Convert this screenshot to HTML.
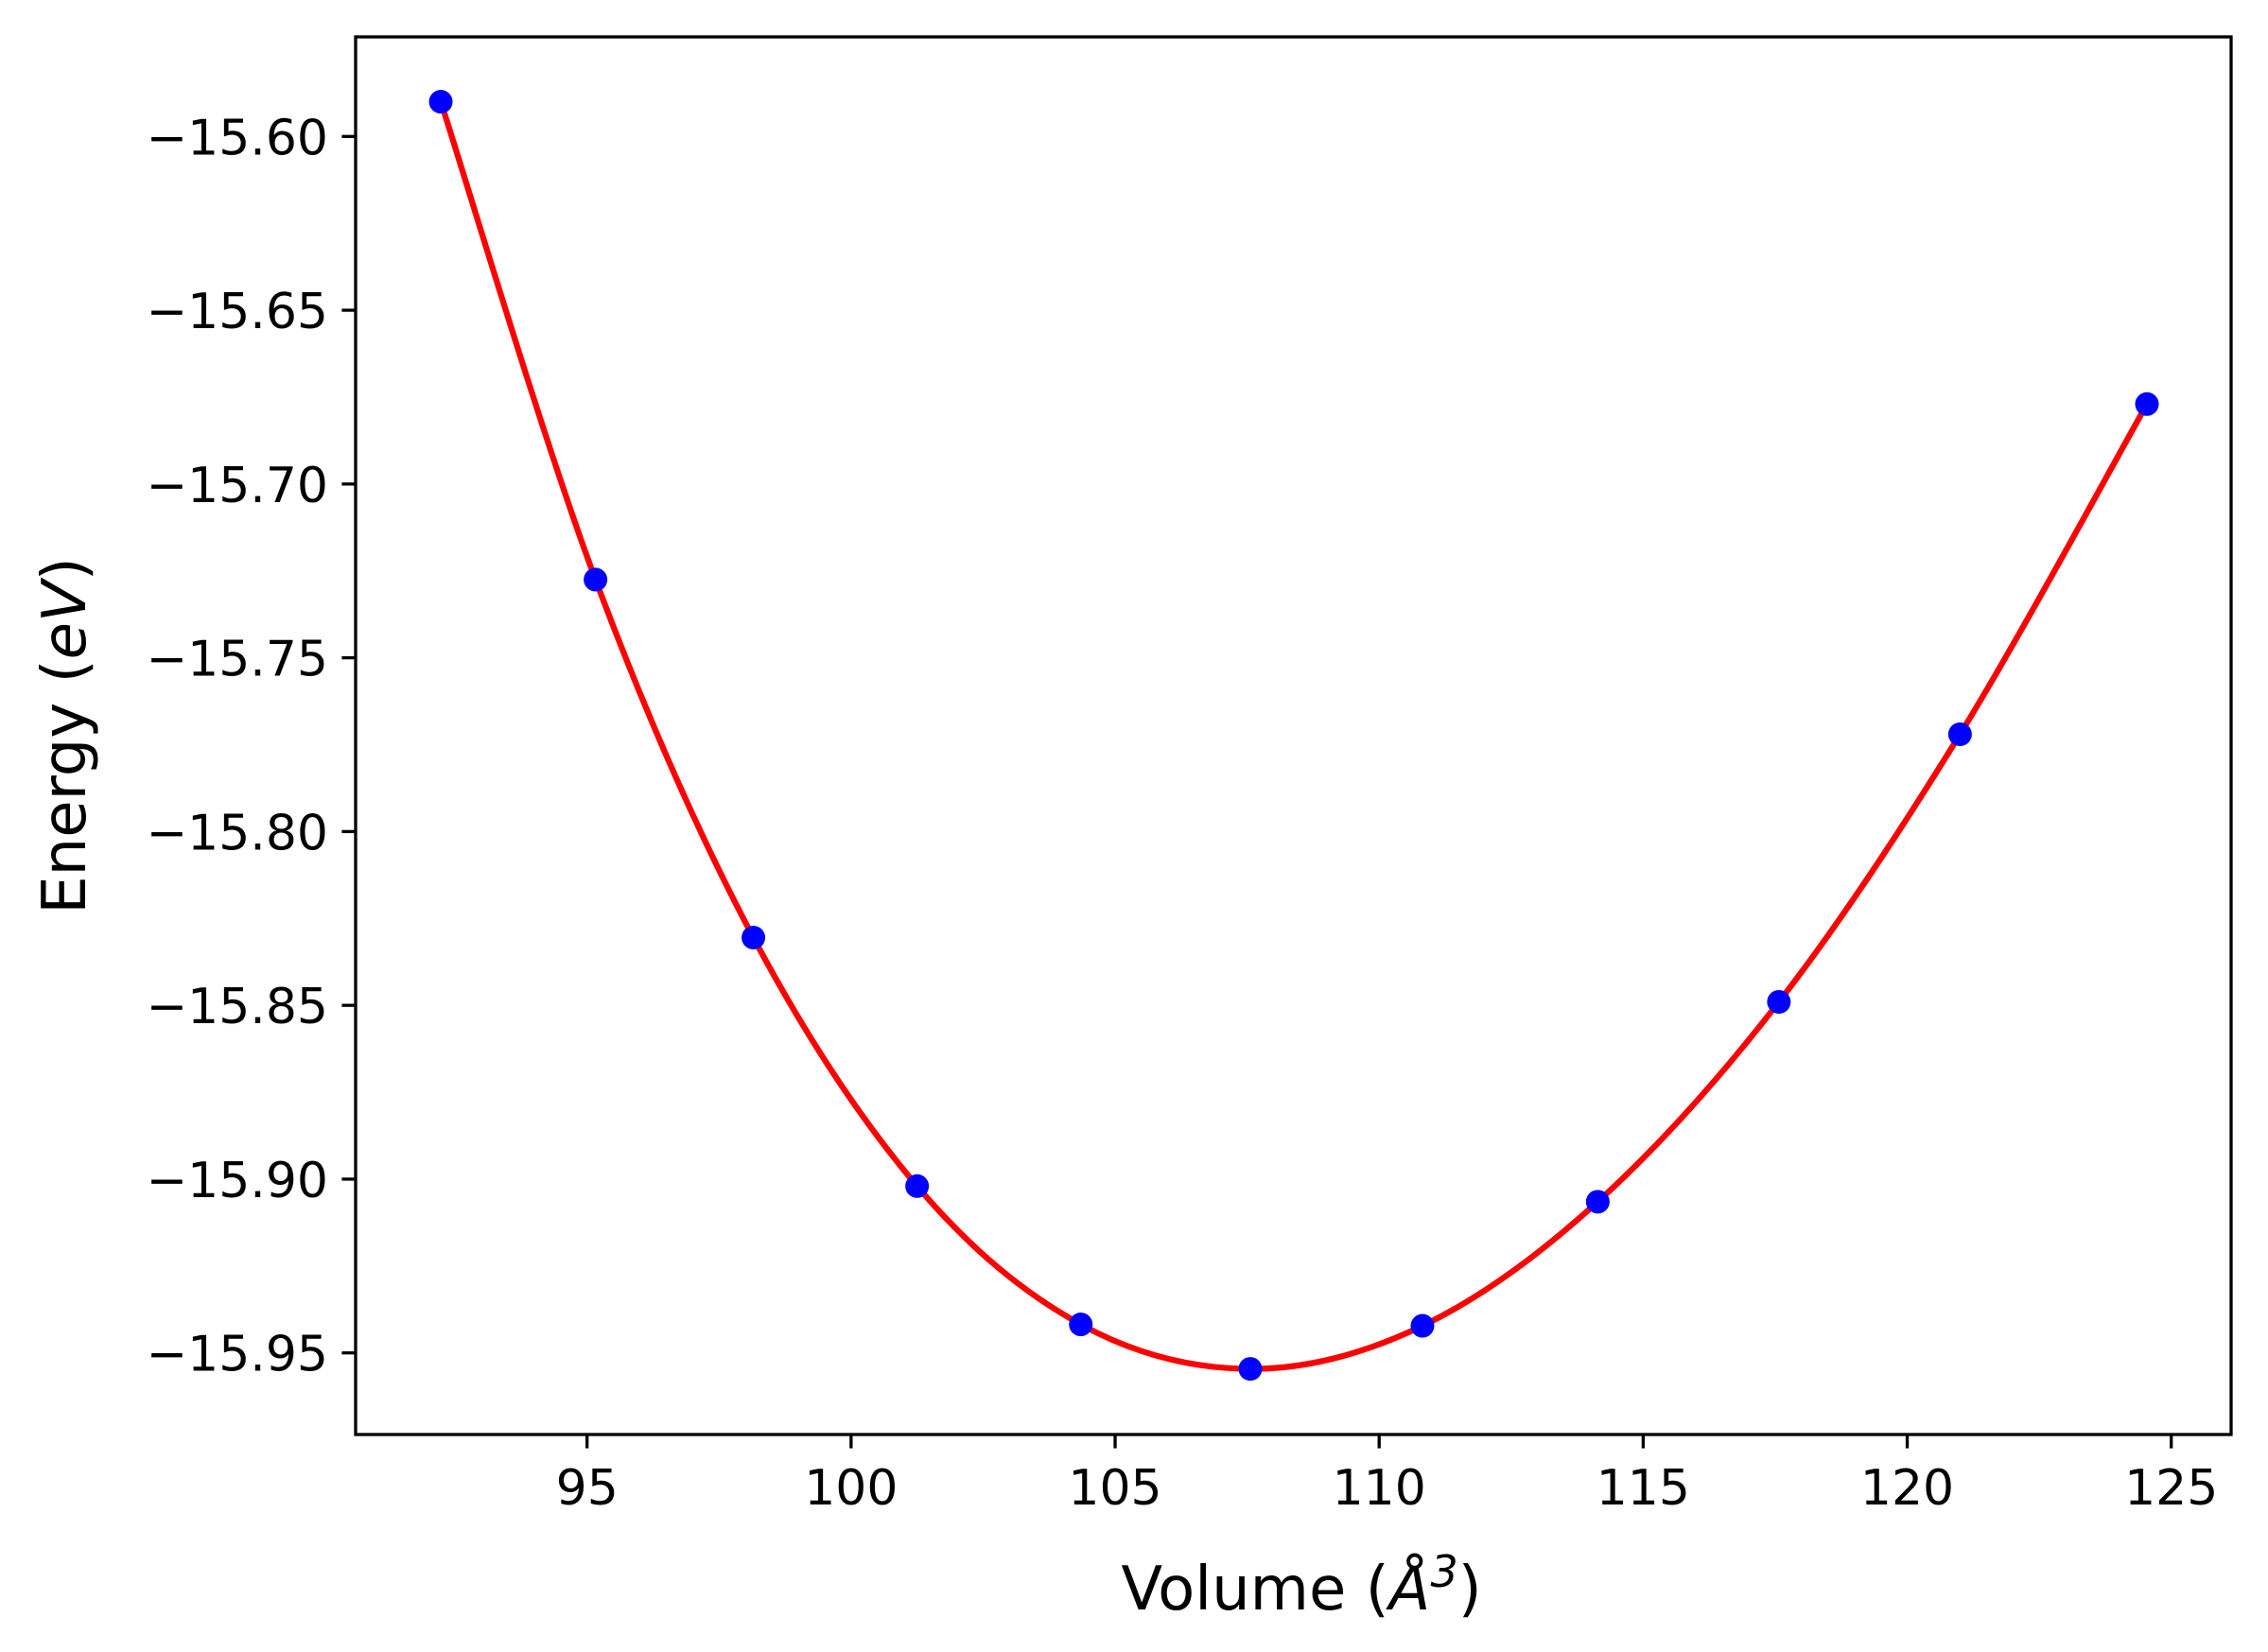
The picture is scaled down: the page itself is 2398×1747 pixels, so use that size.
<!DOCTYPE html>
<html><head><meta charset="utf-8"><style>
html,body{margin:0;padding:0;background:#fff;}
svg text{font-family:"DejaVu Sans","Liberation Sans",sans-serif;fill:#000;}
</style></head><body>
<svg id="chart" width="2398" height="1747" viewBox="0 0 2398 1747" xmlns="http://www.w3.org/2000/svg" style="position:absolute;left:0;top:0">
<rect x="0" y="0" width="2398" height="1747" fill="#fff"/>
<g id="plot"></g>
<g id="axes"></g>
<text x="1376" y="1702" text-anchor="middle" font-size="64">Volume (<tspan font-style="italic">Å</tspan><tspan dy="-24" font-size="46" font-style="italic">3</tspan><tspan dy="24">)</tspan></text>
<text transform="translate(90,778) rotate(-90)" text-anchor="middle" font-size="64">Energy (<tspan font-style="italic">eV</tspan>)</text>
</svg>
<script>
const volumes = [92.23, 95.16, 98.15, 101.25, 104.35, 107.56, 110.82, 114.14, 117.57, 121.0, 124.54];
const energies = [-15.590, -15.7275, -15.8305, -15.902, -15.9418, -15.9546, -15.9422, -15.9065, -15.849, -15.772, -15.677];
const xTicks = [95, 100, 105, 110, 115, 120, 125];
const yTicks = [-15.60, -15.65, -15.70, -15.75, -15.80, -15.85, -15.90, -15.95];

const L = 376, R = 2359, T = 39, B = 1517;
function sx(v){ return 620.7 + (v - 95) * (1675 / 30); }
function sy(e){ return 144.3 + (-15.60 - e) * (1286.4 / 0.35); }
const NS = 'http://www.w3.org/2000/svg';
const plot = document.getElementById('plot');
const axes = document.getElementById('axes');
function mk(tag, attrs, parent){ const el = document.createElementNS(NS, tag); for (const k in attrs) el.setAttribute(k, attrs[k]); parent.appendChild(el); return el; }

const P = volumes.map((v,i)=>[sx(v), sy(energies[i])]);
let d = 'M' + P[0][0] + ',' + P[0][1];
for (let i = 0; i < P.length - 1; i++) {
  const p0 = P[Math.max(0,i-1)], p1 = P[i], p2 = P[i+1], p3 = P[Math.min(P.length-1,i+2)];
  const c1 = [p1[0] + (p2[0]-p0[0])/6, p1[1] + (p2[1]-p0[1])/6];
  const c2 = [p2[0] - (p3[0]-p1[0])/6, p2[1] - (p3[1]-p1[1])/6];
  d += ' C' + c1.join(',') + ' ' + c2.join(',') + ' ' + p2.join(',');
}
const curve = mk('path', {d: d, fill: 'none', stroke: '#ff0000', 'stroke-width': 6.25}, plot);



volumes.forEach((v, i) => {
  const c = mk('circle', {cx: sx(v), cy: sy(energies[i]), r: 12.5, fill: '#0000ff'}, plot);
  
  
});

const frame = mk('rect', {x: L, y: T, width: R - L, height: B - T, fill: 'none', stroke: '#000', 'stroke-width': 3.3}, axes);



xTicks.forEach(t => {
  const x = sx(t);
  const tk = mk('line', {x1: x, x2: x, y1: B, y2: B + 14.6, stroke: '#000', 'stroke-width': 3.3}, axes);
  
  
  const tx = mk('text', {x: x, y: B + 74, 'text-anchor': 'middle', 'font-size': 52}, axes);
  tx.textContent = String(t);
  
  
});
yTicks.forEach(t => {
  const y = sy(t);
  const tk = mk('line', {x1: L - 14.6, x2: L, y1: y, y2: y, stroke: '#000', 'stroke-width': 3.3}, axes);
  
  
  const tx = mk('text', {x: L - 29, y: y + 19, 'text-anchor': 'end', 'font-size': 52}, axes);
  tx.textContent = '\u2212' + Math.abs(t).toFixed(2);
  
  
});
</script>
</body></html>
